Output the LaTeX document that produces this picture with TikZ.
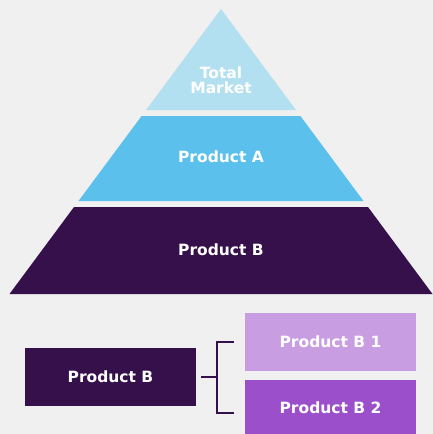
\documentclass[tikz,border=0pt]{standalone}
\usepackage{fontspec}
\setmainfont{DejaVu Sans}
\usetikzlibrary{calc,positioning}
\definecolor{bgGray}{HTML}{F0F0F0}
\definecolor{skyPale}{HTML}{B3E0F1}
\definecolor{skyBlue}{HTML}{5BC0EB}
\definecolor{plumDark}{HTML}{36104A}
\definecolor{lilac}{HTML}{C99DE1}
\definecolor{violet}{HTML}{9B4FCB}
\begin{document}
\begin{tikzpicture}[x=1pt,y=-1pt,
    txt/.style={text=white,font=\bfseries\fontsize{15.5}{16}\selectfont,align=center},
    prodbox/.style={txt,minimum width=171pt,minimum height=58pt,inner sep=0pt},
    bracket/.style={draw=plumDark,line width=2.2pt}]
            \useasboundingbox[fill=bgGray](0,0)rectangle(433,434);
            %ピラミッド
            \coordinate(top)at(221,9);
            \path[fill=skyPale](top)--(296,110)--(146,110)--cycle;
            \path[fill=skyBlue](141.6,116)--(300.4,116)--(363.5,201)--(78.5,201)--cycle;
            \path[fill=plumDark](74,207)--(368,207)--(432.5,294)--(9.5,294)--cycle;
            \node[txt](total)at(221,80){Total\\[-1pt]Market};
            \node[txt](prodA)at(221,157){Product A};
            \node[txt](prodB)at(221,250){Product B};
            %内訳
            \node[prodbox,fill=plumDark](pb)at(110.5,377){Product B};
            \node[prodbox,fill=lilac](b1)at(330.5,342){Product B 1};
            \node[prodbox,fill=violet,minimum height=54pt,below=9pt of b1](b2){Product B 2};
            %括弧
            \coordinate(J)at($(pb.east)+(21,0)$);
            \coordinate(T1)at(234,342);
            \coordinate(T2)at(234,413);
            \path[bracket]([xshift=5pt]pb.east)to(J);
            \path[bracket](T1)-|(J)|-(T2);
        \end{tikzpicture}
\end{document}
